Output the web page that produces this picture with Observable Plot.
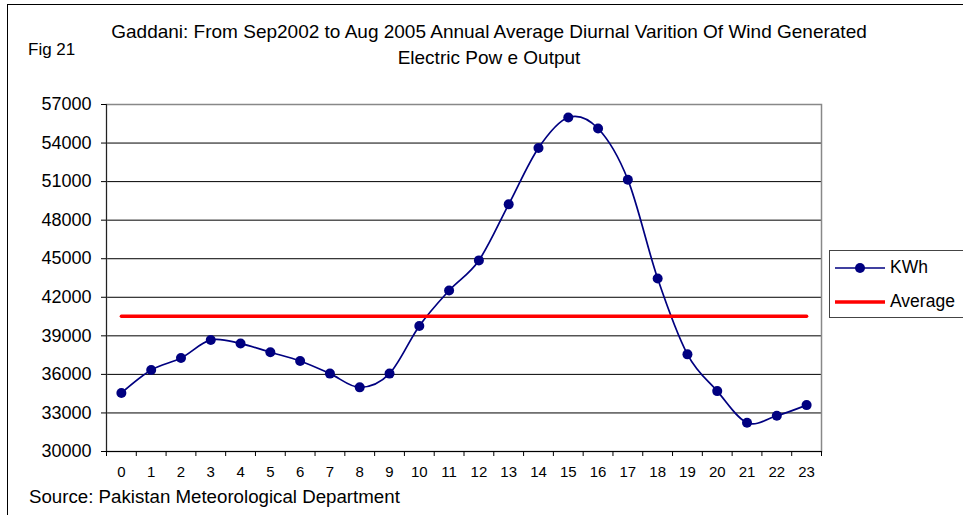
<!DOCTYPE html>
<html>
<head>
<meta charset="utf-8">
<script src="https://cdn.jsdelivr.net/npm/d3@7"></script>
<script src="https://cdn.jsdelivr.net/npm/@observablehq/plot@0.6"></script>
<style>
  html, body { margin: 0; padding: 0; background: #fff; overflow: hidden; }
  #wrap { position: relative; width: 963px; height: 515px; font-family: "Liberation Sans", Arial, sans-serif; color: #000; }
  #border { position: absolute; left: 7px; top: 4px; width: 1200px; height: 800px; border-left: 1.5px solid #000; border-top: 1.5px solid #000; }
  #title { position: absolute; left: 89px; top: 18.7px; width: 800px; text-align: center; font-size: 19px; line-height: 26px; white-space: nowrap; }
  #fig { position: absolute; left: 28px; top: 40px; font-size: 17px; }
  #source { position: absolute; left: 29px; top: 486px; font-size: 18.7px; white-space: nowrap; }
  #legend { position: absolute; left: 829px; top: 250px; width: 160px; height: 66px; border: 1px solid #444; background: #fff; }
  #legend .item { position: absolute; left: 0; height: 20px; }
  #legend svg { position: absolute; left: 5px; }
  #legend span { position: absolute; left: 60px; top: -1px; font-size: 17.5px; white-space: nowrap; }
  #chart { position: absolute; left: 0; top: 0; }
</style>
</head>
<body>
<div id="wrap">
  <div id="border"></div>
  <div id="chart"></div>
  <div id="title">Gaddani: From Sep2002 to Aug 2005 Annual Average Diurnal Varition Of Wind Generated<br>Electric Pow e Output</div>
  <div id="fig">Fig 21</div>
  <div id="source">Source: Pakistan Meteorological Department</div>
  <div id="legend"></div>
</div>
<script>
// Data
const hours = [0, 1, 2, 3, 4, 5, 6, 7, 8, 9, 10, 11, 12, 13, 14, 15, 16, 17, 18, 19, 20, 21, 22, 23];
const kwh = [34550, 36340, 37270, 38680, 38400, 37720, 37040, 36060, 34990, 36060,
             39770, 42530, 44870, 49230, 53620, 55990, 55130, 51150, 43460, 37560,
             34700, 32240, 32780, 33610];
const averageKWh = 40530;
const yTicks = [30000, 33000, 36000, 39000, 42000, 45000, 48000, 51000, 54000, 57000];
const seriesNames = ["KWh", "Average"];
const seriesColors = ["#000080", "#ff0000"];

const rows = hours.map((h, i) => ({hour: h, kwh: kwh[i], avg: averageKWh}));
const tickEdges = hours.map(h => h - 0.5).concat([hours[hours.length - 1] + 0.5]);

const chart = Plot.plot({
  width: 963,
  height: 515,
  marginLeft: 106,
  marginRight: 142,
  marginTop: 104,
  marginBottom: 64,
  style: {fontFamily: '"Liberation Sans", Arial, sans-serif', color: "#000", background: "transparent", overflow: "visible"},
  x: {domain: [tickEdges[0], tickEdges[tickEdges.length - 1]]},
  y: {domain: [yTicks[0], yTicks[yTicks.length - 1]]},
  marks: [
    Plot.ruleY(yTicks, {stroke: "#000", strokeWidth: 1}),
    Plot.frame({stroke: "#888", strokeWidth: 1.5}),
    Plot.ruleX([tickEdges[0]], {stroke: "#222", strokeWidth: 1}),
    Plot.ruleY([yTicks[0]], {stroke: "#000", strokeWidth: 1}),
    Plot.axisY(yTicks, {tickSize: 5, tickPadding: 10, fontSize: 18, tickFormat: d => String(d), label: null, stroke: "#000"}),
    Plot.axisX(tickEdges, {tickSize: 5, tickFormat: () => "", label: null}),
    Plot.axisX(hours, {tickSize: 0, tickPadding: 15, fontSize: 15, tickFormat: d => String(d), label: null}),
    Plot.line(rows, {x: "hour", y: "kwh", stroke: seriesColors[0], strokeWidth: 1.7, curve: d3.curveCardinal.tension(0)}),
    Plot.dot(rows, {x: "hour", y: "kwh", r: 5, fill: seriesColors[0], stroke: "none"}),
    Plot.line(rows, {x: "hour", y: "avg", stroke: seriesColors[1], strokeWidth: 3.5})
  ]
});
document.getElementById("chart").appendChild(chart);

// Legend
const legend = document.getElementById("legend");
const itemTops = [7, 41];
seriesNames.forEach((name, i) => {
  const item = document.createElement("div");
  item.className = "item";
  item.style.top = itemTops[i] + "px";
  item.style.width = "160px";
  const sw = d3.create("svg").attr("width", 50).attr("height", 20);
  if (i === 0) {
    sw.append("line").attr("x1", 0).attr("x2", 50).attr("y1", 10).attr("y2", 10).attr("stroke", seriesColors[0]).attr("stroke-width", 1.7);
    sw.append("circle").attr("cx", 25).attr("cy", 10).attr("r", 5).attr("fill", seriesColors[0]);
  } else {
    sw.append("line").attr("x1", 0).attr("x2", 50).attr("y1", 10).attr("y2", 10).attr("stroke", seriesColors[1]).attr("stroke-width", 3.5);
  }
  item.appendChild(sw.node());
  const label = document.createElement("span");
  label.textContent = name;
  item.appendChild(label);
  legend.appendChild(item);
});
</script>
</body>
</html>
